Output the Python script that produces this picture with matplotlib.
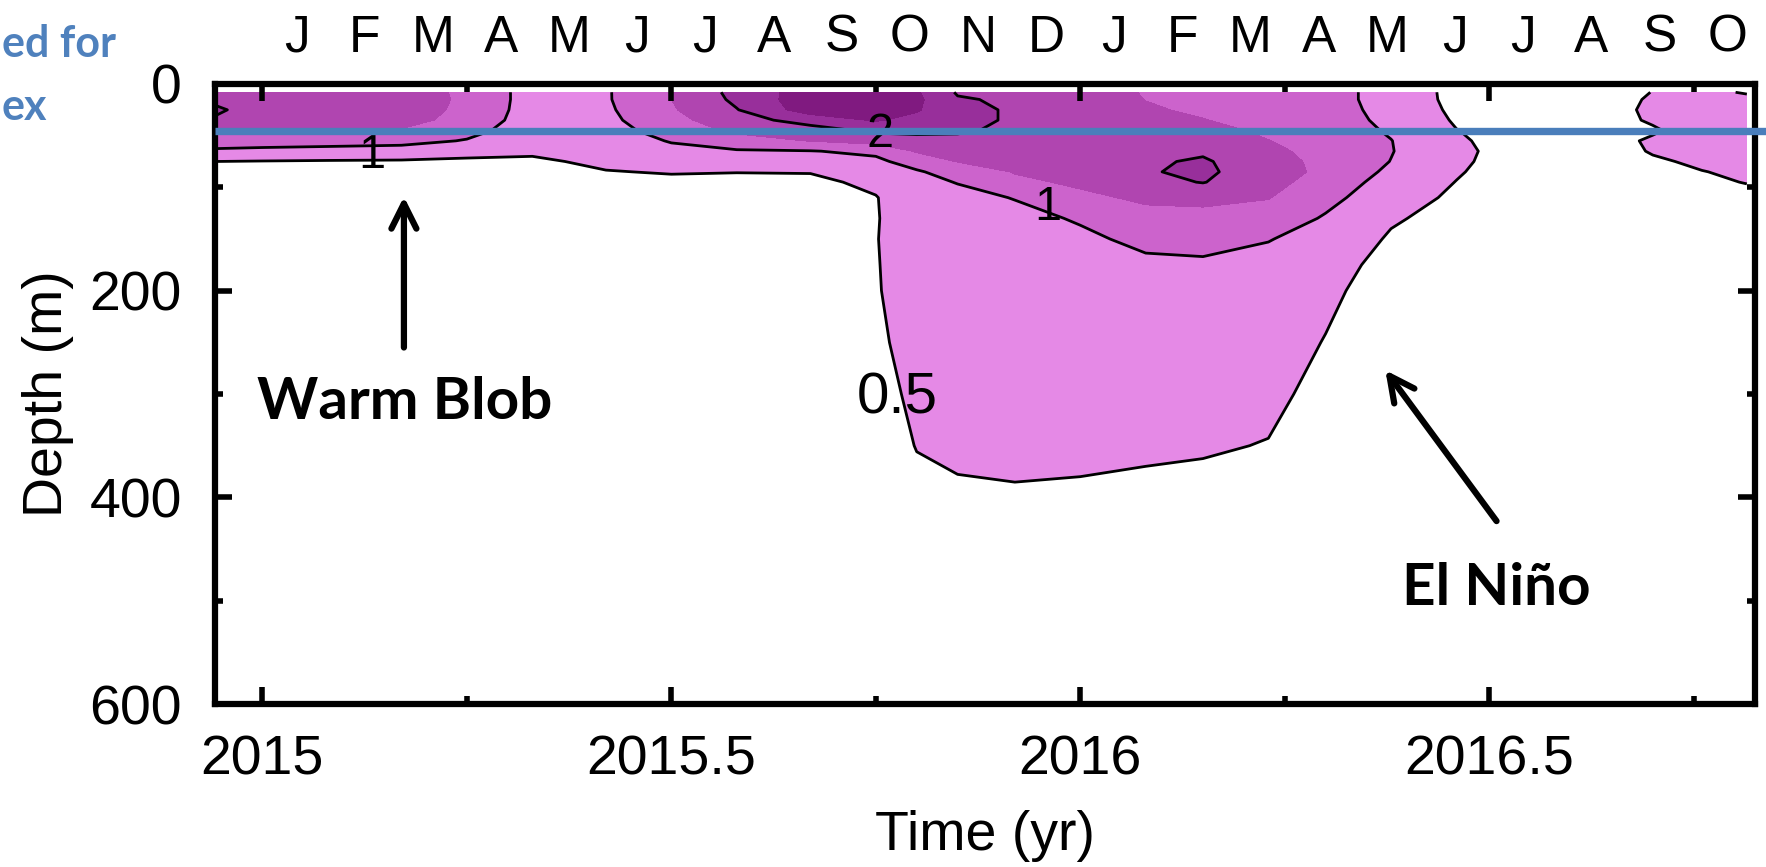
import numpy as np
import matplotlib
matplotlib.use("Agg")
import matplotlib.pyplot as plt
import matplotlib.transforms as mtransforms

plt.rcParams['font.family'] = ['Liberation Sans', 'DejaVu Sans']

# time of each profile (yr)
times = [2014.94, 2015.00, 2015.08, 2015.17, 2015.25, 2015.33, 2015.42, 2015.50,
         2015.58, 2015.67, 2015.75, 2015.80, 2015.85, 2015.92, 2016.00, 2016.08,
         2016.15, 2016.23, 2016.30, 2016.38, 2016.46, 2016.54, 2016.62, 2016.70,
         2016.76, 2016.815]
# depth levels (m)
depths = [8, 15, 25, 35, 45, 55, 65, 75, 85, 95, 110, 130, 150, 175, 200,
          250, 300, 350, 400, 450, 600]

# temperature anomaly profiles (one list per time, top to bottom)
anom = [
    [1.90, 1.96, 2.04, 1.98, 1.55, 1.25, 0.92, 0.50, 0.38, 0.32, 0.28, 0.24, 0.22, 0.18, 0.15, 0.12, 0.10, 0.08, 0.06, 0.05, 0.02],
    [1.85, 1.90, 1.90, 1.82, 1.55, 1.22, 0.88, 0.48, 0.36, 0.30, 0.26, 0.22, 0.20, 0.17, 0.14, 0.11, 0.09, 0.07, 0.06, 0.05, 0.02],
    [1.82, 1.86, 1.86, 1.78, 1.52, 1.18, 0.85, 0.46, 0.35, 0.30, 0.26, 0.22, 0.20, 0.17, 0.14, 0.11, 0.09, 0.07, 0.06, 0.05, 0.02],
    [1.75, 1.80, 1.80, 1.70, 1.45, 1.15, 0.80, 0.45, 0.34, 0.29, 0.25, 0.22, 0.19, 0.16, 0.14, 0.11, 0.09, 0.07, 0.06, 0.05, 0.02],
    [1.40, 1.40, 1.36, 1.30, 1.15, 0.97, 0.66, 0.42, 0.33, 0.28, 0.25, 0.21, 0.19, 0.16, 0.14, 0.11, 0.09, 0.07, 0.06, 0.05, 0.02],
    [0.80, 0.80, 0.80, 0.78, 0.75, 0.70, 0.58, 0.42, 0.32, 0.27, 0.24, 0.21, 0.18, 0.16, 0.13, 0.11, 0.09, 0.07, 0.06, 0.05, 0.02],
    [0.95, 0.95, 0.92, 0.88, 0.82, 0.75, 0.68, 0.60, 0.48, 0.38, 0.30, 0.24, 0.20, 0.17, 0.14, 0.11, 0.09, 0.07, 0.06, 0.05, 0.02],
    [1.52, 1.50, 1.45, 1.35, 1.20, 1.03, 0.88, 0.72, 0.53, 0.40, 0.31, 0.25, 0.21, 0.17, 0.15, 0.12, 0.09, 0.07, 0.06, 0.05, 0.02],
    [2.15, 2.10, 1.98, 1.80, 1.60, 1.30, 0.95, 0.75, 0.51, 0.40, 0.32, 0.26, 0.22, 0.18, 0.16, 0.13, 0.10, 0.08, 0.06, 0.05, 0.02],
    [2.75, 2.80, 2.75, 2.20, 1.80, 1.52, 0.98, 0.75, 0.52, 0.40, 0.33, 0.28, 0.24, 0.20, 0.18, 0.15, 0.12, 0.09, 0.07, 0.05, 0.02],
    [2.70, 2.75, 2.70, 2.55, 2.10, 1.70, 1.10, 0.90, 0.75, 0.60, 0.48, 0.47, 0.48, 0.47, 0.46, 0.40, 0.30, 0.20, 0.15, 0.10, 0.03],
    [2.55, 2.60, 2.55, 2.35, 2.10, 1.85, 1.55, 1.20, 0.95, 0.85, 0.80, 0.78, 0.78, 0.76, 0.75, 0.70, 0.62, 0.52, 0.35, 0.20, 0.05],
    [1.95, 2.05, 2.12, 2.12, 2.05, 1.90, 1.70, 1.52, 1.20, 1.02, 0.85, 0.80, 0.80, 0.80, 0.78, 0.75, 0.68, 0.60, 0.42, 0.25, 0.05],
    [1.90, 1.92, 1.95, 1.95, 1.92, 1.85, 1.75, 1.65, 1.53, 1.40, 1.02, 0.85, 0.82, 0.80, 0.80, 0.77, 0.70, 0.62, 0.45, 0.28, 0.05],
    [1.85, 1.85, 1.85, 1.85, 1.85, 1.85, 1.80, 1.75, 1.68, 1.58, 1.40, 1.05, 0.90, 0.85, 0.82, 0.78, 0.72, 0.62, 0.42, 0.25, 0.05],
    [1.45, 1.49, 1.56, 1.62, 1.70, 1.78, 1.86, 1.93, 1.96, 1.85, 1.58, 1.35, 1.12, 0.90, 0.85, 0.80, 0.72, 0.58, 0.38, 0.22, 0.05],
    [1.30, 1.35, 1.42, 1.52, 1.65, 1.80, 1.93, 2.06, 2.10, 2.02, 1.60, 1.38, 1.15, 0.93, 0.85, 0.80, 0.72, 0.55, 0.35, 0.20, 0.05],
    [1.25, 1.25, 1.27, 1.32, 1.42, 1.51, 1.60, 1.68, 1.70, 1.65, 1.52, 1.30, 1.02, 0.85, 0.78, 0.72, 0.62, 0.48, 0.30, 0.18, 0.05],
    [1.15, 1.15, 1.17, 1.20, 1.25, 1.30, 1.35, 1.38, 1.40, 1.30, 1.15, 0.95, 0.82, 0.72, 0.60, 0.48, 0.35, 0.25, 0.18, 0.12, 0.03],
    [0.85, 0.85, 0.87, 0.90, 0.95, 1.01, 1.02, 0.99, 0.90, 0.80, 0.68, 0.55, 0.45, 0.32, 0.28, 0.22, 0.17, 0.13, 0.10, 0.08, 0.03],
    [0.35, 0.36, 0.40, 0.45, 0.51, 0.56, 0.60, 0.58, 0.54, 0.49, 0.43, 0.35, 0.30, 0.25, 0.20, 0.15, 0.12, 0.10, 0.08, 0.06, 0.02],
    [0.28, 0.28, 0.29, 0.30, 0.30, 0.30, 0.30, 0.28, 0.25, 0.22, 0.20, 0.17, 0.15, 0.13, 0.11, 0.09, 0.07, 0.06, 0.05, 0.04, 0.02],
    [0.25, 0.25, 0.26, 0.27, 0.27, 0.27, 0.26, 0.25, 0.23, 0.21, 0.19, 0.16, 0.14, 0.12, 0.10, 0.08, 0.07, 0.06, 0.05, 0.04, 0.02],
    [0.51, 0.55, 0.58, 0.55, 0.45, 0.56, 0.53, 0.45, 0.38, 0.33, 0.28, 0.24, 0.20, 0.17, 0.14, 0.11, 0.09, 0.07, 0.06, 0.05, 0.02],
    [0.65, 0.70, 0.72, 0.72, 0.70, 0.68, 0.62, 0.56, 0.49, 0.45, 0.38, 0.30, 0.25, 0.20, 0.16, 0.12, 0.10, 0.08, 0.06, 0.05, 0.02],
    [0.45, 0.65, 0.72, 0.75, 0.75, 0.72, 0.68, 0.62, 0.56, 0.51, 0.42, 0.33, 0.27, 0.21, 0.17, 0.13, 0.10, 0.08, 0.06, 0.05, 0.02],
]

fill_levels = [0.5, 1.0, 1.5, 2.0, 2.5, 5.0]
fill_colors = ['#E589E6', '#CC63CC', '#B045B0', '#982F9B', '#801A80']
line_levels = [0.5, 1.0, 2.0]

# contour labels
clab_text = ['1', '2', '1', '0.5']
clab_t = [2015.134, 2015.755, 2015.96, 2015.776]
clab_d = [69, 49, 120, 304]
clab_size = [35, 35, 35, 42]

months = ['J', 'F', 'M', 'A', 'M', 'J', 'J', 'A', 'S', 'O', 'N', 'D',
          'J', 'F', 'M', 'A', 'M', 'J', 'J', 'A', 'S', 'O']

blue_depth = 45.5

T, D = np.meshgrid(times, depths)
Z = np.array(anom).T

fig = plt.figure(figsize=(17.66, 8.67), dpi=100)
ax = fig.add_axes([215 / 1766, 1 - 704 / 867, 1540 / 1766, 620 / 867])

ax.contourf(T, D, Z, levels=fill_levels, colors=fill_colors, zorder=1)
ax.contour(T, D, Z, levels=line_levels, colors='black', linewidths=2.0, zorder=2)

for s, t, d, fs in zip(clab_text, clab_t, clab_d, clab_size):
    ax.text(t, d, s, fontsize=fs, ha='center', va='center', zorder=3)

ax.set_xlim(2014.942, 2016.825)
ax.set_ylim(600, 0)

ax.set_xticks([2015, 2015.5, 2016, 2016.5])
ax.set_xticklabels(['2015', '2015.5', '2016', '2016.5'])
ax.set_xticks([2015.25, 2015.75, 2016.25, 2016.75], minor=True)
ax.set_yticks([0, 200, 400, 600])
ax.set_yticks([100, 300, 500], minor=True)
ax.tick_params(which='both', direction='in', top=True, right=True, width=4)
ax.tick_params(which='major', length=12, labelsize=40)
ax.tick_params(which='minor', length=6)
ax.tick_params(axis='x', which='major', pad=22)
ax.tick_params(axis='y', which='major', pad=24)
for sp in ax.spines.values():
    sp.set_linewidth(4.5)

ax.set_xlabel('Time (yr)', fontsize=40, labelpad=17)
ax.set_ylabel('Depth (m)', fontsize=40, labelpad=11)

# month letters along the top
trans = mtransforms.blended_transform_factory(ax.transData, ax.transAxes)
for i, m in enumerate(months):
    ax.text(2015 + (i + 0.5) / 12, 1.074, m, fontsize=37, ha='center',
            va='center', transform=trans, clip_on=False)

# blue reference line
ax.plot([2014.942, 2016.84], [blue_depth, blue_depth], color='#4A7EBB',
        lw=5.3, solid_capstyle='butt', clip_on=False, zorder=5)

# annotations
bold = dict(family=['Lato', 'DejaVu Sans'], weight='bold', fontsize=42)
ax.annotate('', xy=(2015.173, 109), xytext=(2015.173, 255),
            arrowprops=dict(arrowstyle='->,head_length=0.9,head_width=0.45',
                            lw=4.5, color='black', mutation_scale=20,
                            shrinkA=0, shrinkB=0))
ax.text(2015.174, 324, 'Warm Blob', ha='center', va='baseline', **bold)
ax.annotate('', xy=(2016.373, 277), xytext=(2016.509, 423),
            arrowprops=dict(arrowstyle='->,head_length=0.9,head_width=0.45',
                            lw=4.5, color='black', mutation_scale=20,
                            shrinkA=0, shrinkB=0))
ax.text(2016.509, 504, 'El Niño', ha='center', va='baseline', **bold)

# slide text at top left
blue_txt = dict(family=['Lato', 'DejaVu Sans'], weight='bold', fontsize=31,
                color='#4F81BD')
fig.text(2 / 1766, 1 - 57 / 867, 'ed for', ha='left', va='baseline', **blue_txt)
fig.text(2 / 1766, 1 - 120 / 867, 'ex', ha='left', va='baseline', **blue_txt)

fig.savefig('out.png', dpi=100)
